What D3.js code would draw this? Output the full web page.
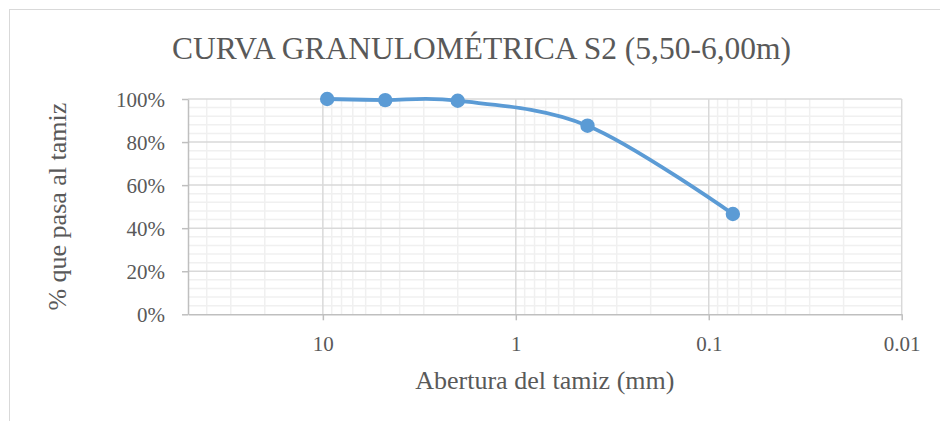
<!DOCTYPE html>
<html>
<head>
<meta charset="utf-8">
<script src="https://cdn.jsdelivr.net/npm/d3@7"></script>
<style>
  html, body { margin: 0; padding: 0; background: #fff; }
  svg { display: block; }
  text { font-family: "Liberation Serif", "DejaVu Serif", serif; fill: #595959; }
</style>
</head>
<body>
<svg id="chart" width="940" height="421"></svg>
<script>
// Sieve openings (mm) and cumulative percentage passing
const aberturas = [9.5, 4.75, 2.0, 0.425, 0.075];
const pasa = [100, 99.5, 99.2, 87.6, 46.6];

// Axis ticks
const xTicks = [10, 1, 0.1, 0.01];
const xTickLabels = ["10", "1", "0.1", "0.01"];
const yTicks = [0, 20, 40, 60, 80, 100];
const xDomain = [50, 0.01];

const titulo = "CURVA GRANULOMÉTRICA S2 (5,50-6,00m)";
const tituloX = "Abertura del tamiz (mm)";
const tituloY = "% que pasa al tamiz";

const serif = "'Liberation Serif', 'DejaVu Serif', serif";
const svg = d3.select("#chart");
const plot = { left: 188, right: 901.7, top: 99, bottom: 314.3 };

// Chart frame
svg.append("rect")
  .attr("x", 9.5).attr("y", 9.5)
  .attr("width", 1000).attr("height", 600)
  .attr("fill", "#fff").attr("stroke", "#d9d9d9").attr("stroke-width", 1);

const x = d3.scaleLog().domain(xDomain).range([plot.left, plot.right]);
const y = d3.scaleLinear().domain([0, 100]).range([plot.bottom, plot.top]);

const g = svg.append("g");

// Minor horizontal gridlines every 4 %
const yMinor = d3.range(0, 101, 4).filter(v => v % 20 !== 0);
g.selectAll("line.yminor").data(yMinor).join("line")
  .attr("x1", plot.left).attr("x2", plot.right)
  .attr("y1", d => y(d)).attr("y2", d => y(d))
  .attr("stroke", "#f0f0f0").attr("stroke-width", 1.5);

// Minor vertical gridlines (2..9 within each decade)
const xMinor = [];
[10, 1, 0.1, 0.01].forEach(dec => {
  for (let k = 2; k <= 9; k++) {
    const v = dec * k;
    if (v < xDomain[0] && v > xDomain[1]) xMinor.push(v);
  }
});
g.selectAll("line.xminor").data(xMinor).join("line")
  .attr("x1", d => x(d)).attr("x2", d => x(d))
  .attr("y1", plot.top).attr("y2", plot.bottom)
  .attr("stroke", "#f0f0f0").attr("stroke-width", 1.5);

// Major gridlines
g.selectAll("line.ymajor").data(yTicks.filter(v => v > 0)).join("line")
  .attr("x1", plot.left).attr("x2", plot.right)
  .attr("y1", d => y(d)).attr("y2", d => y(d))
  .attr("stroke", "#d9d9d9").attr("stroke-width", 1.5);
g.selectAll("line.xmajor").data(xTicks).join("line")
  .attr("x1", d => x(d)).attr("x2", d => x(d))
  .attr("y1", plot.top).attr("y2", plot.bottom)
  .attr("stroke", "#d9d9d9").attr("stroke-width", 1.5);

// Axes
const xAxis = d3.axisBottom(x).tickValues(xTicks)
  .tickFormat((d, i) => xTickLabels[i]).tickSize(6).tickSizeOuter(0);
const gx = svg.append("g").attr("transform", `translate(0,${plot.bottom})`).call(xAxis)
  .attr("font-family", serif);
gx.select(".domain").attr("stroke", "#bfbfbf").attr("stroke-width", 1.5);
gx.selectAll(".tick line").attr("stroke", "#bfbfbf").attr("stroke-width", 1.5);
gx.selectAll(".tick text")
  .attr("y", 37).attr("dy", 0)
  .style("font-size", "21px").style("font-family", serif)
  .attr("fill", "#595959");

const yAxis = d3.axisLeft(y).tickValues(yTicks)
  .tickFormat(d => d + "%").tickSize(6).tickSizeOuter(0);
const gy = svg.append("g").attr("transform", `translate(${plot.left},0)`).call(yAxis)
  .attr("font-family", serif);
gy.select(".domain").attr("stroke", "#bfbfbf").attr("stroke-width", 1.5);
gy.selectAll(".tick line").attr("stroke", "#bfbfbf").attr("stroke-width", 1.5);
gy.selectAll(".tick text")
  .attr("x", -23).attr("dy", "0.34em")
  .style("font-size", "21px").style("font-family", serif)
  .attr("fill", "#595959");

// Smoothed data line
const pts = aberturas.map((a, i) => [x(a), y(pasa[i])]);
svg.append("path")
  .attr("d", d3.line().curve(d3.curveCardinal.tension(0))(pts))
  .attr("fill", "none").attr("stroke", "#5b9bd5").attr("stroke-width", 3.8)
  .attr("stroke-linecap", "round");

svg.selectAll("circle.pt").data(pts).join("circle")
  .attr("cx", d => d[0]).attr("cy", d => d[1]).attr("r", 7.2)
  .attr("fill", "#5b9bd5");

// Titles
svg.append("text")
  .attr("x", 481.5).attr("y", 59)
  .attr("text-anchor", "middle")
  .style("font-size", "31.5px").style("font-family", serif)
  .text(titulo);

svg.append("text")
  .attr("x", (plot.left + plot.right) / 2).attr("y", 389)
  .attr("text-anchor", "middle")
  .style("font-size", "26px").style("font-family", serif)
  .text(tituloX);

svg.append("text")
  .attr("transform", `translate(66,${(plot.top + plot.bottom) / 2}) rotate(-90)`)
  .attr("text-anchor", "middle")
  .style("font-size", "26px").style("font-family", serif)
  .text(tituloY);
</script>
</body>
</html>
